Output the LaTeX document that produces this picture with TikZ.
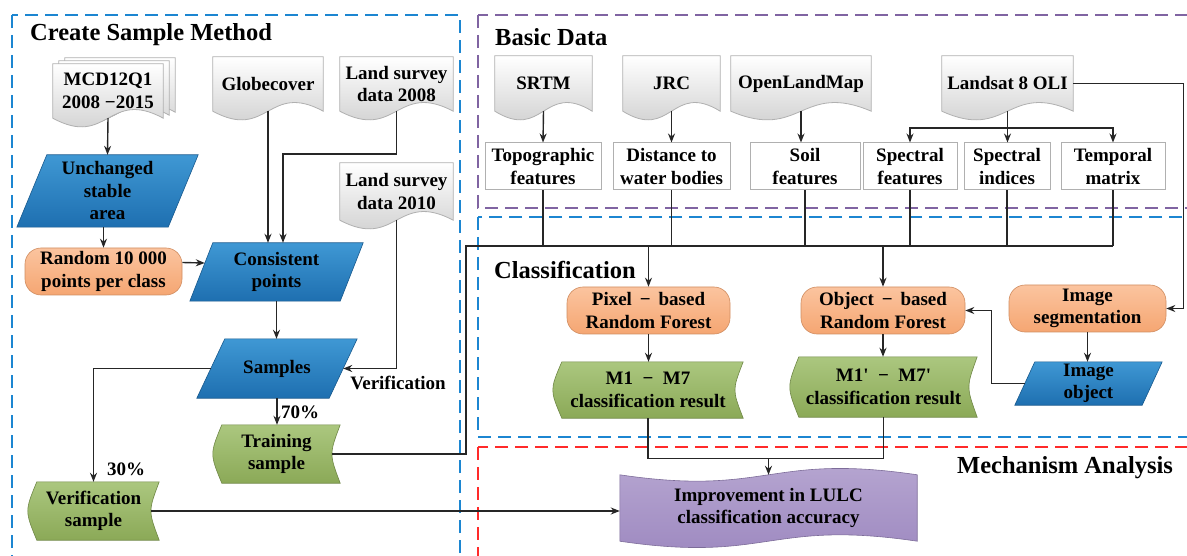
\documentclass[tikz,border=0pt]{standalone}
\usepackage{fontspec}
\setmainfont{Liberation Serif}
\usetikzlibrary{backgrounds,arrows.meta}

\definecolor{frameblue}{HTML}{1C86D1}
\definecolor{framepurple}{HTML}{8064A2}
\definecolor{framered}{HTML}{FF2A2A}
\definecolor{paratop}{HTML}{3F98D4}
\definecolor{parabot}{HTML}{1E6FB0}
\definecolor{orangetop}{HTML}{FBC49F}
\definecolor{orangebot}{HTML}{F5A672}
\definecolor{greentop}{HTML}{ABC77F}
\definecolor{greenbot}{HTML}{8BA957}
\definecolor{purpletop}{HTML}{B8A8D2}
\definecolor{purplebot}{HTML}{9C87BF}
\definecolor{docedge}{HTML}{B0B0B0}

\newcommand{\nfont}{\fontsize{19}{22.5}\selectfont\bfseries}
\newcommand{\tfont}{\fontsize{24.5}{28}\selectfont\bfseries}

% outlines drawn behind the named nodes
\newcommand{\docshape}[3]{% node, dx, dy
  \shadedraw[docfill] ([shift={(#2,#3)}]#1.north west) -- ([shift={(#2,#3)}]#1.north east)
    -- ([shift={(#2,#3)}]#1.south east)
    .. controls ([shift={(#2,#3+30pt)}]#1.south) and ([shift={(#2,#3-30pt)}]#1.south)
    .. ([shift={(#2,#3)}]#1.south west) -- cycle;}
\newcommand{\parashape}[2]{% node, slant
  \shadedraw[parafill] (#1.south west) -- ([xshift=-#2]#1.south east) -- (#1.north east)
    -- ([xshift=#2]#1.north west) -- cycle;}
\newcommand{\storeshape}[1]{%
  \shadedraw[storefill] ([xshift=9pt]#1.south west) .. controls ([xshift=-3pt]#1.west) .. ([xshift=9pt]#1.north west)
    -- (#1.north east) .. controls ([xshift=-11pt]#1.east) .. (#1.south east) -- cycle;}
\newcommand{\tapeshape}[1]{%
  \shadedraw[tapefill] (#1.north west) .. controls ([yshift=-22pt]#1.north) and ([yshift=22pt]#1.north) .. (#1.north east)
    -- (#1.south east) .. controls ([yshift=22pt]#1.south) and ([yshift=-22pt]#1.south) .. (#1.south west) -- cycle;}

\tikzset{
  conn/.style={draw=black!85, line width=1.4pt},
  zone/.style={line width=2pt, dash pattern=on 13pt off 7pt},
  docfill/.style={top color=white, bottom color=black!22, draw=docedge, line width=0.8pt},
  parafill/.style={top color=paratop, bottom color=parabot, draw=parabot!80!black, line width=0.6pt},
  storefill/.style={top color=greentop, bottom color=greenbot, draw=greenbot!80!black, line width=0.6pt},
  tapefill/.style={top color=purpletop, bottom color=purplebot, draw=purplebot!80!black, line width=0.6pt},
  box/.style={inner sep=1pt, align=center, font=\nfont},
  roundbox/.style={box, rounded corners=16pt, top color=orangetop, bottom color=orangebot,
    draw=orangebot!85!black, line width=0.6pt, minimum height=47pt},
  featbox/.style={box, draw=docedge, line width=1pt, fill=white, minimum height=47pt},
  title/.style={font=\tfont, anchor=west, inner sep=0pt},
  lab/.style={font=\nfont, inner sep=0pt},
}

\begin{document}
\begin{tikzpicture}[x=1pt, y=1pt, >={Stealth[length=9pt,width=7pt]}]
\useasboundingbox (0,0) rectangle (1187,-556);
\clip (0,0) rectangle (1187,-556);

% frames
\draw[zone, frameblue] (12,-15) rectangle (460,-620);
\draw[zone, framepurple] (478,-15) rectangle (1250,-208);
\draw[zone, frameblue] (478,-217) rectangle (1250,-437);
\draw[zone, framered] (478,-447) rectangle (1250,-620);

\node[title] (tcreate) at (30,-35) {Create Sample Method};
\node[title] (tbasic) at (495,-37) {Basic Data};
\node[title] (tclass) at (494,-270) {Classification};
\node[title] (tmech) at (957,-468) {Mechanism Analysis};

% create sample method
\node[box, minimum width=110pt, minimum height=54pt] (mcd) at (108,-91) {MCD12Q1\\2008 −2015};
\node[box, minimum width=110pt, minimum height=54pt] (globe) at (268,-84) {Globecover};
\node[box, minimum width=113pt, minimum height=54pt] (ls08) at (396.5,-84) {Land survey\\data 2008};
\node[box, minimum width=113pt, minimum height=57pt] (ls10) at (396.5,-191.5) {Land survey\\data 2010};
\node[box, minimum width=181pt, minimum height=72pt] (stable) at (107.5,-191) {Unchanged\\stable\\area};
\node[roundbox, minimum width=157pt] (random) at (103.5,-271.5) {Random 10 000\\points per class};
\node[box, minimum width=173pt, minimum height=58pt] (consist) at (276.5,-272) {Consistent\\points};
\node[box, minimum width=160pt, minimum height=59pt] (samples) at (277,-368.5) {Samples};
\node[box, minimum width=127pt, minimum height=58pt] (train) at (276.5,-454) {Training\\sample};
\node[box, minimum width=131pt, minimum height=58pt] (verif) at (93.5,-511) {Verification\\sample};
\node[lab] (lverif) at (398,-383) {Verification};
\node[lab] (l70) at (300,-412) {70\%};
\node[lab] (l30) at (126,-469) {30\%};

% basic data
\node[box, minimum width=97pt, minimum height=55pt] (srtm) at (543.5,-83.5) {SRTM};
\node[box, minimum width=97pt, minimum height=55pt] (jrc) at (671.5,-83.5) {JRC};
\node[box, minimum width=140pt, minimum height=55pt] (olm) at (801,-83.5) {OpenLandMap};
\node[box, minimum width=131pt, minimum height=55pt] (landsat) at (1007.5,-83.5) {Landsat 8 OLI};
\node[featbox, minimum width=116pt] (topo) at (543,-166.5) {Topographic\\features};
\node[featbox, minimum width=117pt] (dist) at (671.5,-166.5) {Distance to\\water bodies};
\node[featbox, minimum width=110pt] (soil) at (805,-166.5) {Soil\\features};
\node[featbox, minimum width=94pt] (specf) at (910,-166.5) {Spectral\\features};
\node[featbox, minimum width=86pt] (speci) at (1007,-166.5) {Spectral\\indices};
\node[featbox, minimum width=104pt] (temp) at (1113,-166.5) {Temporal\\matrix};

% classification
\node[roundbox, minimum width=163pt] (pixel) at (648.5,-310.5) {Pixel \,−\, based\\Random Forest};
\node[roundbox, minimum width=164pt] (object) at (883,-310.5) {Object \,−\, based\\Random Forest};
\node[roundbox, minimum width=157pt] (seg) at (1087.5,-308.5) {Image\\segmentation};
\node[box, minimum width=190pt, minimum height=56pt] (m1) at (648,-390) {M1\enspace−\enspace M7\\classification result};
\node[box, minimum width=187pt, minimum height=60pt] (m1p) at (883.5,-387) {M1\textquotesingle\enspace−\enspace M7\textquotesingle\\classification result};
\node[box, minimum width=147pt, minimum height=43pt] (imgobj) at (1088.5,-383.5) {Image\\object};

% mechanism analysis
\node[box, minimum width=297pt, minimum height=66pt] (impr) at (768.5,-508) {Improvement in LULC\\classification accuracy};

\begin{pgfonlayer}{background}
\docshape{mcd}{12pt}{6pt}
\docshape{mcd}{6pt}{3pt}
\foreach \d in {mcd,globe,ls08,ls10,srtm,jrc,olm,landsat} {\docshape{\d}{0pt}{0pt}}
\parashape{stable}{30pt}
\parashape{consist}{23pt}
\parashape{samples}{28pt}
\parashape{imgobj}{20pt}
\foreach \s in {train,verif,m1,m1p} {\storeshape{\s}}
\tapeshape{impr}
\end{pgfonlayer}

% connectors
\draw[conn,->] (mcd.south) -- (stable.north);
\draw[conn,->] (stable.south -| random.north) -- (random.north);
\draw[conn,->] ([yshift=9pt]random.east) -- ([xshift=15pt,yshift=9pt]consist.west);
\draw[conn,->] (globe.south) -- (globe.south |- consist.north);
\draw[conn,->] (ls08.south) -- ++(0,-43) -| ([xshift=6.5pt]consist.north);
\draw[conn,->] (ls10.south) |- ([xshift=-14pt]samples.east);
\draw[conn,->] (consist.south) -- (consist.south |- samples.north);
\draw[conn,->] (samples.south) -- (samples.south |- train.north);
\draw[conn,->] ([xshift=14pt]samples.west) -| (verif.north);
\coordinate (busl) at (466,-246);
\draw[conn] ([xshift=-8pt]train.east) -| (busl) -- (busl -| temp.south);
\draw[conn,->] ([xshift=-8pt]verif.east) -- (verif.east -| impr.west);

\draw[conn,->] (srtm.south) -- (topo.north);
\draw[conn,->] (jrc.south) -- (dist.north);
\draw[conn,->] (olm.south) -- (olm.south |- soil.north);
\draw[conn,->] (landsat.south) -- (landsat.south |- speci.north);
\draw[conn,->] ([yshift=-17pt]landsat.south) -| (specf.north);
\draw[conn,->] ([yshift=-17pt]landsat.south) -| (temp.north);
\foreach \f in {topo,dist,soil,specf,speci,temp} \draw[conn] (\f.south) -- (\f.south |- busl);
\draw[conn,->] (busl -| pixel.north) -- (pixel.north);
\draw[conn,->] (busl -| object.north) -- (object.north);
\draw[conn,->] (landsat.east) -| ([xshift=17pt]seg.east) -- (seg.east);
\draw[conn,->] (seg.south) -- (seg.south |- imgobj.north);
\draw[conn,->] ([xshift=10pt]imgobj.west) -| ([xshift=26pt]object.east) -- (object.east);
\draw[conn,->] (pixel.south) -- (pixel.south |- m1.north);
\draw[conn,->] (object.south) -- (object.south |- m1p.north);
\coordinate (mjoin) at ([yshift=-40pt]m1.south);
\draw[conn] (m1.south) -- (mjoin) -| (m1p.south);
\draw[conn,->] (mjoin -| impr.north) -- (impr.north);
\end{tikzpicture}
\end{document}
